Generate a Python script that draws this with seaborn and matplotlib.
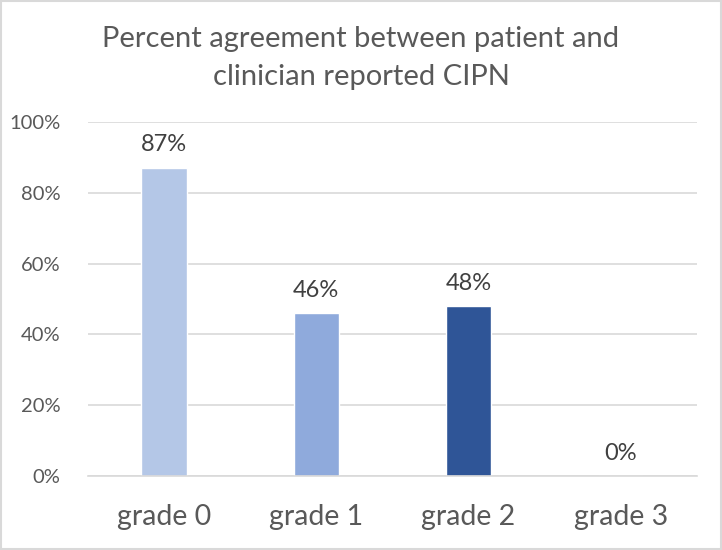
import matplotlib
matplotlib.use("Agg")
import matplotlib.pyplot as plt
import seaborn as sns
import pandas as pd
from matplotlib.patches import Rectangle

categories = ["grade 0", "grade 1", "grade 2", "grade 3"]
values = [87, 46, 48, 0]
value_labels = ["87%", "46%", "48%", "0%"]
colors = ["#B4C7E7", "#8FAADC", "#2F5597", "#203864"]
yticks = [0, 20, 40, 60, 80, 100]
ytick_labels = ["0%", "20%", "40%", "60%", "80%", "100%"]
title = "Percent agreement between patient and\nclinician reported CIPN"

sns.set_theme(style="white")
plt.rcParams['font.family'] = ['Lato', 'DejaVu Sans']

df = pd.DataFrame({"grade": categories, "pct": values})
fig = plt.figure(figsize=(7.22, 5.5), dpi=100)
ax = fig.add_axes([0.122, 0.1345, 0.843, 0.644])
sns.barplot(data=df, x="grade", y="pct", hue="grade", palette=colors,
            width=0.30, legend=False, ax=ax, saturation=1)
ax.set_ylim(0, 100)
ax.set_xlim(-0.5, 3.5)
ax.set_yticks(yticks)
ax.set_yticklabels(ytick_labels, fontsize=14.5, color="#595959")
ax.tick_params(axis="x", labelsize=20.5, colors="#595959", length=0, pad=20)
ax.tick_params(axis="y", length=0, pad=20)
ax.set_xlabel("")
ax.set_ylabel("")
ax.yaxis.grid(True, color="#D9D9D9", linewidth=1.2)
ax.set_axisbelow(True)
for s in ["top", "right", "left"]:
    ax.spines[s].set_visible(False)
ax.spines["bottom"].set_color("#D9D9D9")
ax.spines["bottom"].set_linewidth(1.2)
for i, (v, lab) in enumerate(zip(values, value_labels)):
    ax.annotate(lab, (i, v), xytext=(0, 9), textcoords="offset points",
                ha="center", va="bottom", fontsize=17, color="#404040")
fig.text(0.5, 0.895, title, ha="center", va="center", fontsize=21,
         color="#595959", linespacing=1.55)
fig.patches.append(Rectangle((0.001, 0.001), 0.997, 0.997, transform=fig.transFigure,
                             fill=False, edgecolor="#D9D9D9", linewidth=1.5))
fig.savefig("out.png", dpi=100)
